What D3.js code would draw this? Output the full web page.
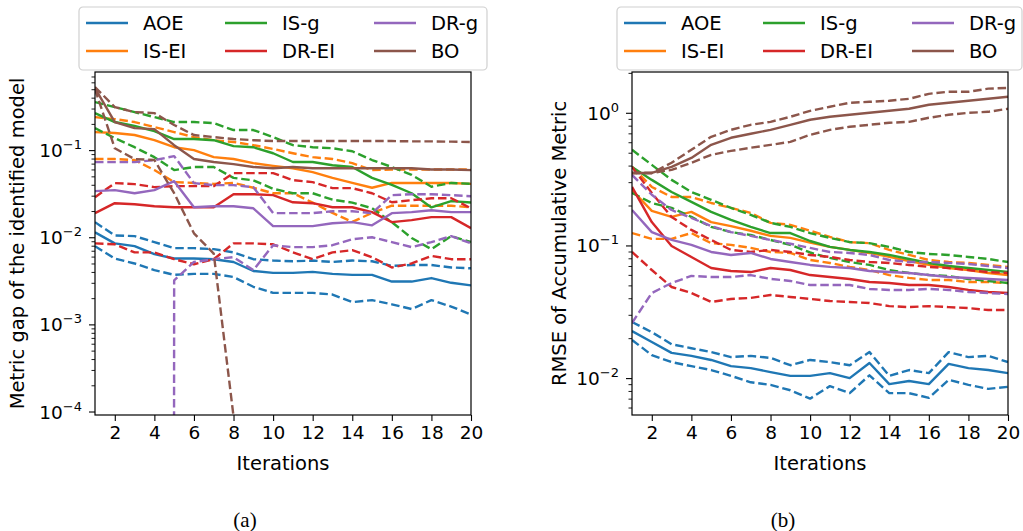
<!DOCTYPE html>
<html><head><meta charset="utf-8">
<script src="https://cdn.jsdelivr.net/npm/d3@7"></script>
<style>
body{margin:0;background:#fff}
svg{display:block}
text{font-family:"DejaVu Sans",sans-serif;fill:#000}
</style>
</head><body>
<svg id="chart" width="1023" height="531"></svg>
<script>
// ---------- data ----------
const iterations = d3.range(1, 21);
const methods = ["AOE", "IS-EI", "IS-g", "DR-EI", "DR-g", "BO"];
const methodColors = ["#1f77b4", "#ff7f0e", "#2ca02c", "#d62728", "#9467bd", "#8c564b"];
const xTickValues = [2, 4, 6, 8, 10, 12, 14, 16, 18, 20];
const xLabel = "Iterations";
const yLabelA = "Metric gap of the identified model";
const yLabelB = "RMSE of Accumulative Metric";
const captions = ["(a)", "(b)"];
const yMajorA = [1e-4, 1e-3, 1e-2, 1e-1];
const yMajorB = [1e-2, 1e-1, 1];

// panel (a): mean, upper, lower
const a_AOE    = [0.0114,0.0085,0.0079,0.0064,0.0057,0.0057,0.0056,0.0052,0.0041,0.0039,0.0039,0.0040,0.0038,0.0037,0.0037,0.0031,0.0031,0.0034,0.0030,0.0028];
const a_AOE_hi = [0.0149,0.0105,0.0103,0.0088,0.0075,0.0075,0.0073,0.0067,0.0056,0.0054,0.0053,0.0054,0.0052,0.0054,0.0053,0.0047,0.0048,0.0048,0.0045,0.0044];
const a_AOE_lo = [0.0079,0.0057,0.0050,0.0042,0.0037,0.0038,0.0038,0.0035,0.0027,0.0023,0.0023,0.0023,0.0022,0.0018,0.0019,0.0017,0.0015,0.0019,0.0016,0.0013];
const a_ISEI    = [0.161,0.157,0.149,0.130,0.108,0.100,0.083,0.079,0.071,0.066,0.062,0.056,0.048,0.042,0.037,0.042,0.042,0.042,0.042,0.041];
const a_ISEI_hi = [0.239,0.227,0.210,0.184,0.161,0.141,0.130,0.124,0.114,0.103,0.092,0.083,0.079,0.071,0.059,0.060,0.060,0.060,0.060,0.060];
const a_ISEI_lo = [0.079,0.079,0.077,0.059,0.043,0.042,0.041,0.042,0.037,0.032,0.032,0.025,0.019,0.015,0.019,0.023,0.023,0.023,0.023,0.022];
const a_ISg    = [0.266,0.210,0.189,0.165,0.134,0.134,0.130,0.111,0.108,0.092,0.073,0.073,0.067,0.064,0.048,0.040,0.032,0.022,0.026,0.025];
const a_ISg_hi = [0.356,0.312,0.273,0.239,0.210,0.210,0.204,0.170,0.170,0.141,0.114,0.108,0.105,0.097,0.077,0.064,0.052,0.038,0.042,0.041];
const a_ISg_lo = [0.179,0.137,0.108,0.083,0.059,0.064,0.064,0.048,0.045,0.036,0.032,0.032,0.027,0.025,0.0215,0.0149,0.0098,0.0073,0.0103,0.0088];
const a_DREI    = [0.0189,0.0246,0.0239,0.0227,0.0221,0.0221,0.0221,0.0312,0.0312,0.0304,0.0252,0.0246,0.0221,0.0221,0.0194,0.0149,0.0157,0.0170,0.0170,0.0127];
const a_DREI_hi = [0.0288,0.0418,0.0407,0.0376,0.0386,0.0386,0.0386,0.0545,0.0545,0.0545,0.0452,0.0429,0.0366,0.0366,0.0320,0.0252,0.0266,0.0280,0.0280,0.0215];
const a_DREI_lo = [0.0085,0.0083,0.0067,0.0067,0.0056,0.0049,0.0056,0.0085,0.0085,0.0083,0.0067,0.0056,0.0067,0.0071,0.0059,0.0045,0.0050,0.0061,0.0056,0.0056];
const a_DRg    = [0.0338,0.0347,0.0320,0.0347,0.0440,0.0221,0.0227,0.0227,0.0215,0.0134,0.0134,0.0134,0.0145,0.0149,0.0137,0.0189,0.0194,0.0204,0.0194,0.0194];
const a_DRg_hi = [0.0728,0.0728,0.0728,0.0767,0.0853,0.0418,0.0396,0.0396,0.0376,0.0189,0.0189,0.0189,0.0199,0.0199,0.0189,0.0304,0.0312,0.0312,0.0304,0.0296];
const a_DRg_lo = [0,0,0,0,0.0032,0.0052,0.0056,0.0059,0.0042,0.0081,0.0077,0.0077,0.0081,0.0095,0.0100,0.0088,0.0077,0.0088,0.0103,0.0085];
const a_BO    = [0.516,0.210,0.179,0.174,0.114,0.079,0.073,0.069,0.064,0.062,0.064,0.062,0.062,0.062,0.062,0.062,0.062,0.060,0.060,0.059];
const a_BO_hi = [0.530,0.312,0.273,0.266,0.194,0.149,0.141,0.134,0.130,0.127,0.127,0.127,0.127,0.127,0.127,0.127,0.126,0.126,0.125,0.124];
const a_BO_lo = [0.500,0.105,0.079,0.077,0.032,0.0111,0.0065,0.000088,0,0,0,0,0,0,0,0,0,0,0,0];

// panel (b): mean, upper, lower
const b_AOE    = [0.0226,0.0187,0.0155,0.0147,0.0137,0.0123,0.0119,0.0111,0.0104,0.0104,0.0109,0.0100,0.0130,0.0090,0.0095,0.0090,0.0128,0.0119,0.0115,0.0109];
const b_AOE_hi = [0.0265,0.0222,0.0180,0.0168,0.0157,0.0144,0.0147,0.0142,0.0125,0.0137,0.0132,0.0125,0.0157,0.0104,0.0115,0.0109,0.0157,0.0144,0.0147,0.0132];
const b_AOE_lo = [0.0194,0.0149,0.0132,0.0123,0.0115,0.0104,0.0093,0.0089,0.0081,0.0070,0.0087,0.0077,0.0105,0.0077,0.0077,0.0071,0.0097,0.0089,0.0083,0.0086];
const b_ISEI    = [0.262,0.182,0.164,0.179,0.150,0.140,0.129,0.118,0.114,0.105,0.0975,0.0925,0.0878,0.0819,0.0764,0.0713,0.0676,0.0653,0.0620,0.0598];
const b_ISEI_hi = [0.391,0.276,0.232,0.232,0.209,0.192,0.176,0.148,0.143,0.129,0.116,0.106,0.104,0.0925,0.0848,0.0777,0.0750,0.0738,0.0713,0.0689];
const b_ISEI_lo = [0.124,0.112,0.112,0.124,0.104,0.101,0.0958,0.0893,0.0878,0.0777,0.0738,0.0689,0.0653,0.0598,0.0569,0.0549,0.0549,0.0530,0.0530,0.0521];
const b_ISg    = [0.391,0.312,0.253,0.213,0.179,0.156,0.138,0.124,0.124,0.108,0.0975,0.0925,0.0893,0.0848,0.0791,0.0738,0.0700,0.0676,0.0653,0.0630];
const b_ISg_hi = [0.526,0.405,0.312,0.253,0.221,0.192,0.170,0.148,0.138,0.124,0.114,0.106,0.104,0.0975,0.0893,0.0863,0.0848,0.0819,0.0791,0.0750];
const b_ISg_lo = [0.249,0.209,0.192,0.164,0.138,0.126,0.120,0.110,0.101,0.0885,0.0805,0.0750,0.0713,0.0653,0.0620,0.0598,0.0588,0.0559,0.0540,0.0521];
const b_DREI    = [0.276,0.150,0.0991,0.0819,0.0676,0.0642,0.0630,0.0676,0.0653,0.0598,0.0578,0.0559,0.0530,0.0521,0.0503,0.0503,0.0486,0.0462,0.0446,0.0438];
const b_DREI_hi = [0.391,0.249,0.164,0.131,0.110,0.0925,0.0893,0.0925,0.0893,0.0848,0.0819,0.0777,0.0750,0.0738,0.0713,0.0689,0.0676,0.0653,0.0630,0.0620];
const b_DREI_lo = [0.0893,0.0653,0.0486,0.0438,0.0375,0.0395,0.0402,0.0423,0.0409,0.0395,0.0381,0.0375,0.0368,0.0349,0.0343,0.0349,0.0343,0.0337,0.0326,0.0326];
const b_DRg    = [0.185,0.126,0.110,0.101,0.0893,0.0848,0.0878,0.0791,0.0750,0.0713,0.0689,0.0676,0.0642,0.0630,0.0620,0.0598,0.0578,0.0569,0.0559,0.0549];
const b_DRg_hi = [0.340,0.241,0.185,0.161,0.140,0.126,0.118,0.110,0.103,0.0958,0.0893,0.0878,0.0848,0.0777,0.0750,0.0750,0.0738,0.0725,0.0700,0.0676];
const b_DRg_lo = [0.0260,0.0438,0.0521,0.0589,0.0578,0.0578,0.0598,0.0559,0.0540,0.0503,0.0503,0.0503,0.0470,0.0462,0.0462,0.0470,0.0462,0.0446,0.0438,0.0430];
const b_BO    = [0.352,0.352,0.391,0.457,0.573,0.648,0.695,0.744,0.812,0.886,0.933,0.966,1.000,1.035,1.072,1.149,1.190,1.232,1.275,1.320];
const b_BO_hi = [0.352,0.352,0.420,0.526,0.659,0.744,0.812,0.855,0.933,1.035,1.110,1.190,1.210,1.232,1.275,1.390,1.440,1.440,1.520,1.540];
const b_BO_lo = [0.352,0.352,0.371,0.420,0.482,0.516,0.545,0.573,0.604,0.682,0.744,0.784,0.812,0.841,0.855,0.917,0.966,1.000,1.017,1.072];

const seriesA = [
  [a_AOE, a_AOE_hi, a_AOE_lo], [a_ISEI, a_ISEI_hi, a_ISEI_lo], [a_ISg, a_ISg_hi, a_ISg_lo],
  [a_DREI, a_DREI_hi, a_DREI_lo], [a_DRg, a_DRg_hi, a_DRg_lo], [a_BO, a_BO_hi, a_BO_lo]
];
const seriesB = [
  [b_AOE, b_AOE_hi, b_AOE_lo], [b_ISEI, b_ISEI_hi, b_ISEI_lo], [b_ISg, b_ISg_hi, b_ISg_lo],
  [b_DREI, b_DREI_hi, b_DREI_lo], [b_DRg, b_DRg_hi, b_DRg_lo], [b_BO, b_BO_hi, b_BO_lo]
];

// ---------- drawing ----------
const svg = d3.select("#chart");
const LW = 2.4, DASH = "8.5,3.8";

function drawPanel(id, series, box, yDomain, yMajor, yLabel, yLabelX, legendBox, caption, captionX) {
  const x = d3.scaleLinear().domain([1, 20]).range([box.left, box.right]);
  const y = d3.scaleLog().domain(yDomain).range([box.bottom, box.top]);
  const g = svg.append("g");

  g.append("clipPath").attr("id", "clip" + id).append("rect")
    .attr("x", box.left).attr("y", box.top)
    .attr("width", box.right - box.left).attr("height", box.bottom - box.top);

  const line = d3.line()
    .x((d, i) => x(iterations[i]))
    .y(d => y(Math.max(d, 1e-300)));

  const lines = g.append("g").attr("clip-path", `url(#clip${id})`);
  series.forEach((trip, k) => {
    trip.forEach((arr, j) => {
      lines.append("path")
        .attr("d", line(arr))
        .attr("fill", "none")
        .attr("stroke", methodColors[k])
        .attr("stroke-width", LW)
        .attr("stroke-dasharray", j === 0 ? null : DASH)
        .attr("stroke-linejoin", "round");
    });
  });

  // x axis
  const xa = g.append("g").attr("transform", `translate(0,${box.bottom})`)
    .call(d3.axisBottom(x).tickValues(xTickValues).tickSize(6).tickSizeOuter(0).tickPadding(5));
  xa.select(".domain").remove();
  xa.selectAll(".tick line").attr("stroke", "#000").attr("stroke-width", 1.1);
  xa.selectAll(".tick text").style("font-family", "DejaVu Sans").style("font-size", "18.5px").attr("fill", "#000");

  // y axis: minor ticks
  const [lo, hi] = yDomain;
  const minors = [];
  for (let e = Math.floor(Math.log10(lo)); e <= Math.ceil(Math.log10(hi)); e++) {
    for (let m = 2; m <= 9; m++) {
      const v = m * Math.pow(10, e);
      if (v >= lo && v <= hi) minors.push(v);
    }
  }
  const ym = g.append("g").attr("transform", `translate(${box.left},0)`)
    .call(d3.axisLeft(y).tickValues(minors).tickSize(3.5).tickFormat(""));
  ym.select(".domain").remove();
  ym.selectAll(".tick line").attr("stroke", "#000").attr("stroke-width", 0.9);

  const yM = g.append("g").attr("transform", `translate(${box.left},0)`)
    .call(d3.axisLeft(y).tickValues(yMajor).tickSize(6).tickFormat(""));
  yM.select(".domain").remove();
  yM.selectAll(".tick line").attr("stroke", "#000").attr("stroke-width", 1.1);

  // major tick labels 10^k
  yMajor.forEach(v => {
    const e = Math.round(Math.log10(v));
    const t = g.append("text")
      .attr("x", box.left - 13).attr("y", y(v) + 7)
      .attr("text-anchor", "end")
      .style("font-size", "18.5px");
    t.append("tspan").text("10");
    t.append("tspan").attr("dy", -8).style("font-size", "13px")
      .text(e < 0 ? "\u2212" + (-e) : String(e));
  });

  // frame
  g.append("rect").attr("x", box.left).attr("y", box.top)
    .attr("width", box.right - box.left).attr("height", box.bottom - box.top)
    .attr("fill", "none").attr("stroke", "#000").attr("stroke-width", 1.2);

  // axis labels
  g.append("text").attr("x", (box.left + box.right) / 2).attr("y", 470)
    .attr("text-anchor", "middle").style("font-size", "19.5px").text(xLabel);
  g.append("text")
    .attr("transform", `translate(${yLabelX},${(box.top + box.bottom) / 2}) rotate(-90)`)
    .attr("text-anchor", "middle").style("font-size", "19.5px").text(yLabel);

  // legend
  const lg = g.append("g");
  lg.append("rect").attr("x", legendBox.x).attr("y", 7)
    .attr("width", legendBox.w).attr("height", 63).attr("rx", 4)
    .attr("fill", "#fff").attr("fill-opacity", 0.85)
    .attr("stroke", "#d0d0d0").attr("stroke-width", 1.2);
  const colOff = [7, 146, 295];
  methods.forEach((m, k) => {
    const col = Math.floor(k / 2), row = k % 2;
    const cy = row === 0 ? 23 : 51;
    const x0 = legendBox.x + colOff[col];
    lg.append("line").attr("x1", x0).attr("x2", x0 + 42).attr("y1", cy).attr("y2", cy)
      .attr("stroke", methodColors[k]).attr("stroke-width", 2.6);
    lg.append("text").attr("x", x0 + 57).attr("y", cy + 7)
      .style("font-size", "19.5px").text(m);
  });

  // caption
  svg.append("text").attr("x", captionX).attr("y", 527).attr("text-anchor", "middle")
    .style("font-family", "'Liberation Serif', serif").style("font-size", "21px").text(caption);
}

drawPanel("a", seriesA, {left: 95, right: 471, top: 72, bottom: 415},
  [9.12e-5, 0.788], yMajorA, yLabelA, 24, {x: 79, w: 408}, captions[0], 245);
drawPanel("b", seriesB, {left: 632, right: 1008, top: 72, bottom: 415},
  [0.00527, 2.03], yMajorB, yLabelB, 566, {x: 617, w: 405}, captions[1], 783);
</script>
</body></html>
